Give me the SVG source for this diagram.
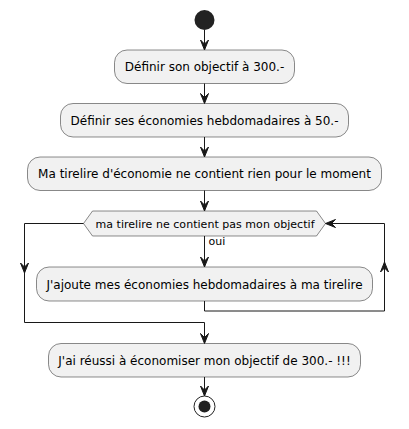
<svg xmlns="http://www.w3.org/2000/svg" width="409" height="429" viewBox="0 0 409 429">
<style>
.box{fill:#F1F1F1;stroke:#181818;stroke-width:0.5}
.t{font-family:"DejaVu Sans",sans-serif;font-size:12px;fill:#000;text-anchor:middle}
.s{font-family:"DejaVu Sans",sans-serif;font-size:11px;fill:#000}
.ln{fill:none;stroke:#181818;stroke-width:1}
.ah{fill:#181818;stroke:#181818;stroke-width:1}
</style>
<rect width="409" height="429" fill="#FFFFFF"/>
<g id="start"><circle cx="204.5" cy="20" r="10" fill="#222222"/></g>
<g id="n1"><rect class="box" x="114.5" y="50" width="180" height="33.5" rx="12.5"/><text class="t" x="204.5" y="71">Définir son objectif à 300.-</text></g>
<g id="n2"><rect class="box" x="60.5" y="103.5" width="288" height="33.5" rx="12.5"/><text class="t" x="204.5" y="124.5">Définir ses économies hebdomadaires à 50.-</text></g>
<g id="n3"><rect class="box" x="27.5" y="157" width="354" height="33.5" rx="12.5"/><text class="t" x="204.5" y="178">Ma tirelire d'économie ne contient rien pour le moment</text></g>
<g id="cond"><polygon class="box" points="92.5,211 316.5,211 325.5,223.5 316.5,236 92.5,236 83.5,223.5"/><text class="s" x="205" y="227.5" text-anchor="middle" textLength="219" lengthAdjust="spacing">ma tirelire ne contient pas mon objectif</text></g>
<g id="n4"><rect class="box" x="36.5" y="267" width="336" height="34" rx="12.5"/><text class="t" x="204.5" y="288.5">J'ajoute mes économies hebdomadaires à ma tirelire</text></g>
<g id="n5"><rect class="box" x="48.5" y="343.5" width="312" height="33.5" rx="12.5"/><text class="t" x="204.5" y="364.5">J'ai réussi à économiser mon objectif de 300.- !!!</text></g>
<g id="end"><circle cx="204.5" cy="406.5" r="10.5" fill="none" stroke="#222222" stroke-width="1"/><circle cx="204.5" cy="406.5" r="6" fill="#222222"/></g>
<g id="connectors">
<line class="ln" x1="204.5" y1="30" x2="204.5" y2="49"/>
<polygon class="ah" points="200.5,40 204.5,50 208.5,40 204.5,44"/>
<line class="ln" x1="204.5" y1="83.5" x2="204.5" y2="102.5"/>
<polygon class="ah" points="200.5,93.5 204.5,103.5 208.5,93.5 204.5,97.5"/>
<line class="ln" x1="204.5" y1="137" x2="204.5" y2="156"/>
<polygon class="ah" points="200.5,147 204.5,157 208.5,147 204.5,151"/>
<line class="ln" x1="204.5" y1="190.5" x2="204.5" y2="210"/>
<polygon class="ah" points="200.5,201 204.5,211 208.5,201 204.5,205"/>
<line class="ln" x1="204.5" y1="236" x2="204.5" y2="266"/>
<polygon class="ah" points="200.5,257 204.5,267 208.5,257 204.5,261"/>
<text class="s" x="208.5" y="245">oui</text>
<polyline class="ln" points="204.5,301 204.5,311 384.5,311 384.5,223.5 326,223.5"/>
<polygon class="ah" points="380.5,272 384.5,262 388.5,272 384.5,268"/>
<polygon class="ah" points="335.5,219.5 325.5,223.5 335.5,227.5 331.5,223.5"/>
<polyline class="ln" points="83.5,223.5 24.5,223.5 24.5,322.5 204.5,322.5 204.5,342.5"/>
<polygon class="ah" points="20.5,263 24.5,273 28.5,263 24.5,267"/>
<polygon class="ah" points="200.5,333.5 204.5,343.5 208.5,333.5 204.5,337.5"/>
<line class="ln" x1="204.5" y1="377" x2="204.5" y2="395"/>
<polygon class="ah" points="200.5,386 204.5,396 208.5,386 204.5,390"/>
</g>
</svg>
